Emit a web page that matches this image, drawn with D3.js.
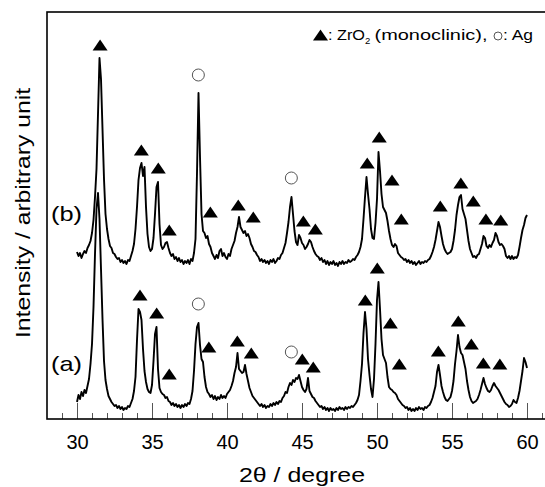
<!DOCTYPE html>
<html>
<head>
<meta charset="utf-8">
<script src="https://cdn.jsdelivr.net/npm/d3@7"></script>
<style>
  body { margin: 0; background: #fff; }
  svg { display: block; font-family: "Liberation Sans", Arial, sans-serif; }
</style>
</head>
<body>
<div id="chart"></div>
<script>
// 2-theta sampling of both patterns
const thetaStart = 30;
const thetaStep = 0.1;

// pattern (a), intensity (a.u.), one row per degree from 30 to 60
const patternA = [
  17, 24, 20, 27, 23, 29, 26, 33, 40, 55,
  75, 112, 165, 210, 226, 200, 150, 100, 58, 39,
  30, 23, 20, 17, 15, 13, 14, 11, 13, 10,
  12, 9, 11, 10, 13, 12, 16, 20, 28, 42,
  79, 110, 107, 99, 70, 48, 37, 30, 27, 26,
  34, 58, 85, 92, 50, 31, 27, 25, 24, 21,
  22, 18, 17, 14, 16, 13, 15, 12, 14, 11,
  14, 12, 15, 13, 16, 15, 20, 28, 48, 75,
  92, 96, 74, 60, 57, 42, 32, 27, 25, 22,
  24, 20, 23, 19, 22, 20, 24, 21, 23, 21,
  25, 27, 29, 33, 38, 46, 52, 66, 50, 48,
  46, 47, 54, 45, 38, 31, 27, 23, 21, 19,
  17, 15, 13, 15, 12, 14, 11, 13, 12, 15,
  13, 16, 14, 17, 15, 18, 17, 21, 23, 27,
  26, 32, 36, 34, 39, 37, 41, 40, 44, 38,
  32, 29, 27, 30, 41, 28, 25, 22, 21, 18,
  16, 14, 12, 13, 10, 12, 9, 11, 8, 11,
  9, 10, 8, 11, 9, 12, 10, 11, 9, 12,
  10, 12, 11, 13, 12, 14, 16, 19, 24, 38,
  55, 86, 107, 90, 60, 44, 30, 22, 40, 75,
  119, 137, 110, 80, 64, 60, 56, 42, 32, 30,
  29, 27, 26, 24, 20, 18, 16, 14, 13, 11,
  12, 9, 11, 8, 10, 8, 11, 9, 12, 10,
  11, 9, 12, 11, 13, 14, 17, 21, 27, 33,
  47, 54, 44, 33, 27, 22, 19, 18, 20, 22,
  28, 38, 55, 68, 84, 72, 66, 64, 57, 50,
  38, 29, 22, 18, 16, 17, 18, 20, 24, 29,
  35, 41, 35, 31, 28, 27, 29, 33, 36, 33,
  31, 29, 26, 23, 20, 17, 15, 14, 12, 13,
  15, 19, 17, 16, 21, 28, 38, 48, 61, 57,
  51
];

// pattern (b), shifted up
const patternB = [
  167, 163, 166, 161, 165, 168, 166, 171, 174, 178,
  186, 199, 222, 250, 305, 361, 340, 290, 240, 205,
  190, 180, 173, 171, 166, 165, 162, 160, 161, 157,
  159, 156, 158, 155, 159, 158, 163, 168, 175, 190,
  212, 239, 251, 256, 243, 252, 212, 185, 172, 168,
  170, 181, 205, 232, 237, 195, 174, 170, 172, 176,
  177, 171, 166, 163, 165, 160, 162, 158, 161, 157,
  159, 155, 158, 156, 159, 155, 160, 158, 166, 180,
  246, 326, 262, 205, 188, 186, 181, 183, 175, 172,
  166, 163, 160, 164, 161, 168, 170, 163, 166, 162,
  160, 165, 163, 170, 174, 178, 186, 192, 202, 192,
  189, 186, 188, 183, 185, 181, 175, 172, 168, 167,
  164, 162, 158, 160, 157, 159, 156, 158, 155, 159,
  157, 160, 156, 158, 161, 160, 164, 166, 171, 176,
  186, 197, 212, 222, 205, 188, 177, 174, 184, 181,
  176, 174, 170, 172, 175, 179, 177, 172, 168, 165,
  163, 162, 159, 161, 157, 159, 155, 158, 154, 157,
  155, 158, 154, 156, 153, 157, 155, 158, 155, 157,
  156, 159, 157, 158, 160, 159, 162, 164, 167, 172,
  180, 200, 222, 242, 225, 210, 190, 181, 180, 196,
  220, 267, 248, 225, 212, 209, 206, 198, 188, 180,
  174, 172, 175, 173, 166, 164, 162, 161, 159, 160,
  157, 159, 156, 158, 155, 157, 154, 156, 158, 155,
  157, 156, 158, 157, 159, 160, 163, 167, 172, 179,
  188, 197, 192, 183, 175, 170, 167, 165, 166, 167,
  170, 178, 189, 204, 214, 222, 224, 210, 205, 200,
  189, 178, 170, 166, 162, 163, 161, 164, 165, 170,
  175, 183, 181, 173, 171, 174, 172, 176, 179, 186,
  183, 177, 174, 175, 173, 170, 163, 161, 163, 160,
  163, 160, 162, 161, 164, 172, 181, 189, 194, 201,
  204
];

// peak markers [2theta, intensity]
const zro2A = [[34.2, 124], [35.31, 106], [36.15, 45], [38.79, 72], [40.69, 78], [41.62, 66],
  [45.02, 60], [45.75, 52], [49.22, 119], [50.02, 151], [50.89, 96], [51.49, 55],
  [54.09, 68], [55.42, 98], [56.29, 75], [57.09, 56], [58.19, 55]];
const agA = [[38.09, 115], [44.29, 67]];
const zro2B = [[31.54, 374], [34.29, 269], [35.42, 251], [36.15, 189], [38.89, 207], [40.75, 214],
  [41.75, 202], [45.09, 198], [45.89, 190], [49.35, 256], [50.15, 282], [51.0, 239],
  [51.62, 200], [54.22, 213], [55.59, 236], [56.42, 218], [57.26, 200], [58.25, 199]];
const agB = [[38.09, 344], [44.29, 241]];

const majorTicks = [30, 35, 40, 45, 50, 55, 60];
const minorTicks = d3.range(29, 62);

const width = 545, height = 487;
const margin = { left: 47, right: 557, top: 12, bottom: 419 };

const svg = d3.select("#chart").append("svg")
  .attr("width", width)
  .attr("height", height);

const x = d3.scaleLinear().domain([28, 62]).range([margin.left, margin.right]);
const y = d3.scaleLinear().domain([0, 407]).range([margin.bottom, margin.top]);

// minor ticks
svg.append("g")
  .attr("transform", `translate(0,${margin.bottom})`)
  .call(d3.axisBottom(x).tickValues(minorTicks).tickSize(-6).tickFormat(""))
  .call(g => g.select(".domain").remove())
  .call(g => g.selectAll("line").attr("stroke", "#555"));

// major ticks and labels
svg.append("g")
  .attr("transform", `translate(0,${margin.bottom})`)
  .call(d3.axisBottom(x).tickValues(majorTicks).tickSize(-16).tickPadding(16))
  .call(g => g.select(".domain").remove())
  .call(g => g.selectAll("line").attr("stroke", "#555"))
  .call(g => g.selectAll("text")
    .attr("font-size", 20)
    .attr("font-family", "Liberation Sans, Arial, sans-serif")
    .attr("fill", "#000"));

// frame
svg.append("rect")
  .attr("x", margin.left).attr("y", margin.top)
  .attr("width", margin.right - margin.left).attr("height", margin.bottom - margin.top)
  .attr("fill", "none")
  .attr("stroke", "#000")
  .attr("stroke-width", 1.6);

const line = d3.line()
  .x((d, i) => x(thetaStart + i * thetaStep))
  .y(d => y(d));

[patternB, patternA].forEach(p => {
  svg.append("path")
    .datum(p)
    .attr("d", line)
    .attr("fill", "none")
    .attr("stroke", "#000")
    .attr("stroke-width", 1.9)
    .attr("stroke-linejoin", "round");
});

const tri = "M0,-5.5L7.5,5.5L-7.5,5.5Z";

svg.append("g").selectAll("path")
  .data(zro2A.concat(zro2B))
  .enter().append("path")
  .attr("d", tri)
  .attr("transform", d => `translate(${x(d[0])},${y(d[1])})`)
  .attr("fill", "#000");

svg.append("g").selectAll("circle")
  .data(agA.concat(agB))
  .enter().append("circle")
  .attr("cx", d => x(d[0]))
  .attr("cy", d => y(d[1]))
  .attr("r", 6)
  .attr("fill", "#fff")
  .attr("stroke", "#555")
  .attr("stroke-width", 1);

// sample labels
svg.append("text").attr("x", 51).attr("y", 221)
  .attr("font-size", 21).attr("textLength", 31).attr("lengthAdjust", "spacingAndGlyphs")
  .text("(b)");
svg.append("text").attr("x", 51).attr("y", 371)
  .attr("font-size", 21).attr("textLength", 31).attr("lengthAdjust", "spacingAndGlyphs")
  .text("(a)");

// axis titles
svg.append("text")
  .attr("x", (margin.left + margin.right) / 2).attr("y", 482)
  .attr("text-anchor", "middle")
  .attr("font-size", 21)
  .attr("textLength", 126).attr("lengthAdjust", "spacingAndGlyphs")
  .text("2θ / degree");

svg.append("text")
  .attr("transform", "translate(29.5,213) rotate(-90)")
  .attr("text-anchor", "middle")
  .attr("font-size", 21)
  .attr("textLength", 250).attr("lengthAdjust", "spacingAndGlyphs")
  .text("Intensity / arbitrary unit");

// legend
const lg = svg.append("g");
lg.append("path").attr("d", tri).attr("transform", "translate(320.5,35)").attr("fill", "#000");
lg.append("text").attr("x", 328).attr("y", 40).attr("font-size", 14)
  .attr("textLength", 37).attr("lengthAdjust", "spacingAndGlyphs").text(": ZrO");
lg.append("text").attr("x", 365).attr("y", 43.5).attr("font-size", 9.5).text("2");
lg.append("text").attr("x", 374.5).attr("y", 40).attr("font-size", 14)
  .attr("textLength", 113).attr("lengthAdjust", "spacingAndGlyphs").text("(monoclinic),");
lg.append("circle").attr("cx", 498).attr("cy", 36).attr("r", 4)
  .attr("fill", "#fff").attr("stroke", "#555").attr("stroke-width", 1);
lg.append("text").attr("x", 503).attr("y", 40).attr("font-size", 14)
  .attr("textLength", 30).attr("lengthAdjust", "spacingAndGlyphs").text(": Ag");
</script>
</body>
</html>
